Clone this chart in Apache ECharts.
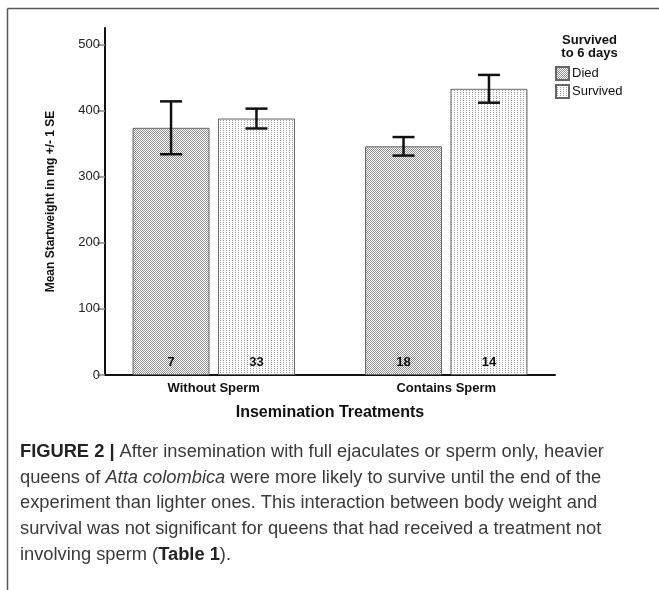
<!DOCTYPE html>
<html>
<head>
<meta charset="utf-8">
<script src="https://cdn.jsdelivr.net/npm/echarts@6/dist/echarts.min.js"></script>
<style>
  html, body { margin: 0; padding: 0; background: #fff; }
  #chart { width: 659px; height: 590px; }
</style>
</head>
<body>
<div id="chart"></div>
<script>
// Mean start weight of queens by insemination treatment and 6-day survival
const categories = ['Without Sperm', 'Contains Sperm'];
const diedMean = [374, 346];
const diedSE = [40, 14];
const survivedMean = [388, 433];
const survivedSE = [15, 21];
const diedN = [7, 18];
const survivedN = [33, 14];
const yTicks = [0, 100, 200, 300, 400, 500];

const FONT = '"Liberation Sans", Arial, Helvetica, sans-serif';
const BAR_FRAC = 0.331;   // bar width as a share of the category band
const GAP_FRAC = 0.11;    // gap between paired bars as a share of bar width
const CAPTION_SIZE = 18.3;

// stippled fills
function makeTile(w, h, dots, color) {
  const c = document.createElement('canvas');
  c.width = w; c.height = h;
  const ctx = c.getContext('2d');
  ctx.fillStyle = '#fff';
  ctx.fillRect(0, 0, w, h);
  ctx.fillStyle = color;
  dots.forEach(d => ctx.fillRect(d[0], d[1], 1, 1));
  return c;
}
const diedTile = makeTile(2, 2, [[0, 0], [1, 1]], '#939393');
const survivedTile = makeTile(3, 4, [[1, 0], [1, 2]], '#a2a2a2');

function errorBars(sign) {
  return function (params, api) {
    const idx = api.value(0);
    const mean = api.value(1);
    const se = api.value(2);
    const band = api.size([1, 0])[0];
    const off = sign * band * BAR_FRAC * (1 + GAP_FRAC) / 2;
    const cx = api.coord([idx, mean])[0] + off;
    const yTop = api.coord([idx, mean + se])[1];
    const yBot = api.coord([idx, mean - se])[1];
    const half = 11;
    const style = { stroke: '#111', lineWidth: 2.5 };
    return {
      type: 'group',
      children: [
        { type: 'line', shape: { x1: cx, y1: yTop, x2: cx, y2: yBot }, style: style },
        { type: 'line', shape: { x1: cx - half, y1: yTop, x2: cx + half, y2: yTop }, style: style },
        { type: 'line', shape: { x1: cx - half, y1: yBot, x2: cx + half, y2: yBot }, style: style }
      ]
    };
  };
}

const countLabel = (counts) => ({
  show: true,
  position: 'insideBottom',
  distance: 6,
  fontFamily: FONT,
  fontSize: 13,
  fontWeight: 'bold',
  color: '#111',
  formatter: p => String(counts[p.dataIndex])
});

const chart = echarts.init(document.getElementById('chart'), null, { renderer: 'canvas' });

const option = {
  backgroundColor: '#fff',
  animation: false,
  textStyle: { fontFamily: FONT },
  grid: [
    { left: 97.5, width: 465, top: 28, height: 347 },
    { left: 105, width: 450, top: 28, height: 347 }
  ],
  legend: {
    orient: 'vertical',
    left: 555,
    top: 66,
    padding: 0,
    itemWidth: 13,
    itemHeight: 13,
    itemGap: 3,
    icon: 'rect',
    data: ['Died', 'Survived'],
    textStyle: { fontFamily: FONT, fontSize: 13, color: '#111', padding: [0, 0, 0, -2] }
  },
  xAxis: [
    {
      type: 'category',
      gridIndex: 0,
      data: categories,
      axisLine: { show: false },
      axisTick: { show: false },
      axisLabel: { fontFamily: FONT, fontSize: 13, fontWeight: 'bold', color: '#111', margin: 7 },
      name: 'Insemination Treatments',
      nameLocation: 'middle',
      nameGap: 30,
      nameTextStyle: { fontFamily: FONT, fontSize: 16, fontWeight: 'bold', color: '#111' }
    },
    {
      type: 'value',
      gridIndex: 1,
      min: 0,
      max: 1,
      axisLine: { show: true, lineStyle: { color: '#111', width: 2 } },
      axisTick: { show: false },
      axisLabel: { show: false },
      splitLine: { show: false }
    }
  ],
  yAxis: [
    { type: 'value', gridIndex: 0, min: 0, max: 525, show: false },
    {
      type: 'value',
      gridIndex: 1,
      min: 0,
      max: 525,
      interval: 100,
      splitLine: { show: false },
      axisLine: { show: true, lineStyle: { color: '#111', width: 2 } },
      axisTick: { show: true, length: 8, customValues: yTicks, lineStyle: { color: '#888', width: 1.5 } },
      axisLabel: { customValues: yTicks, fontFamily: FONT, fontSize: 13, color: '#222', margin: 5 },
      name: 'Mean Startweight in mg +/- 1 SE',
      nameLocation: 'middle',
      nameGap: 48,
      nameTextStyle: { fontFamily: FONT, fontSize: 12, fontWeight: 'bold', color: '#111' }
    }
  ],
  series: [
    {
      name: 'Died',
      type: 'bar',
      xAxisIndex: 0,
      yAxisIndex: 0,
      barWidth: (BAR_FRAC * 100) + '%',
      barGap: (GAP_FRAC * 100) + '%',
      data: diedMean,
      itemStyle: { color: { image: diedTile, repeat: 'repeat' }, borderColor: '#666', borderWidth: 1 },
      label: countLabel(diedN)
    },
    {
      name: 'Survived',
      type: 'bar',
      xAxisIndex: 0,
      yAxisIndex: 0,
      barWidth: (BAR_FRAC * 100) + '%',
      barGap: (GAP_FRAC * 100) + '%',
      data: survivedMean,
      itemStyle: { color: { image: survivedTile, repeat: 'repeat' }, borderColor: '#666', borderWidth: 1 },
      label: countLabel(survivedN)
    },
    {
      name: 'Died SE',
      type: 'custom',
      xAxisIndex: 0,
      yAxisIndex: 0,
      renderItem: errorBars(-1),
      encode: { x: 0, y: 1 },
      data: diedMean.map((m, i) => [i, m, diedSE[i]]),
      z: 5
    },
    {
      name: 'Survived SE',
      type: 'custom',
      xAxisIndex: 0,
      yAxisIndex: 0,
      renderItem: errorBars(1),
      encode: { x: 0, y: 1 },
      data: survivedMean.map((m, i) => [i, m, survivedSE[i]]),
      z: 5
    }
  ],
  graphic: [
    // figure frame
    { type: 'line', shape: { x1: 7.5, y1: 8.5, x2: 659, y2: 8.5 }, style: { stroke: '#555', lineWidth: 1.5 } },
    { type: 'line', shape: { x1: 7.5, y1: 8.5, x2: 7.5, y2: 590 }, style: { stroke: '#555', lineWidth: 1.5 } },
    // legend heading
    {
      type: 'text', x: 589.5, y: 34,
      style: {
        text: 'Survived\nto 6 days', textAlign: 'center',
        font: 'bold 13px ' + FONT, lineHeight: 13, fill: '#111'
      }
    },
    // caption
    {
      type: 'text', x: 20, y: 439,
      style: {
        text: '{b|FIGURE 2 |} After insemination with full ejaculates or sperm only, heavier\n' +
              'queens of {i|Atta colombica} were more likely to survive until the end of the\n' +
              'experiment than lighter ones. This interaction between body weight and\n' +
              'survival was not significant for queens that had received a treatment not\n' +
              'involving sperm ({b|Table 1}).',
        font: CAPTION_SIZE + 'px ' + FONT, fill: '#3a3a3a', lineHeight: 25.7,
        rich: {
          b: { fontWeight: 'bold', fontSize: CAPTION_SIZE, fontFamily: FONT, fill: '#222', lineHeight: 25.7 },
          i: { fontStyle: 'italic', fontSize: CAPTION_SIZE, fontFamily: FONT, fill: '#3a3a3a', lineHeight: 25.7 }
        }
      }
    }
  ]
};

chart.setOption(option);
</script>
</body>
</html>
